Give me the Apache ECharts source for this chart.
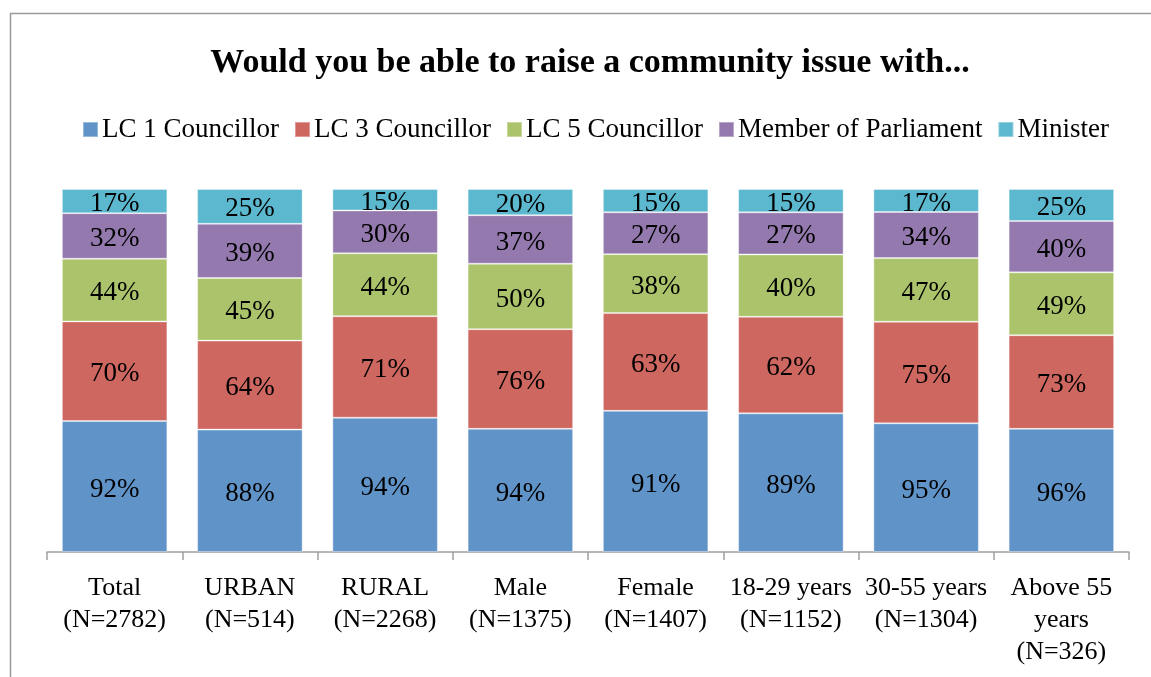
<!DOCTYPE html>
<html>
<head>
<meta charset="utf-8">
<title>Would you be able to raise a community issue with...</title>
<script src="https://cdn.jsdelivr.net/npm/echarts@6/dist/echarts.min.js"></script>
<style>
  html, body { margin: 0; padding: 0; background: #ffffff; }
  #chart { width: 1151px; height: 677px; }
</style>
</head>
<body>
<div id="chart"></div>
<script>
// Respondent groups shown along the bottom axis
const categories = [
  'Total\n(N=2782)',
  'URBAN\n(N=514)',
  'RURAL\n(N=2268)',
  'Male\n(N=1375)',
  'Female\n(N=1407)',
  '18-29 years\n(N=1152)',
  '30-55 years\n(N=1304)',
  'Above 55\nyears\n(N=326)'
];

// Share of respondents (%) who could raise an issue with each office
const seriesNames = ['LC 1 Councillor', 'LC 3 Councillor', 'LC 5 Councillor', 'Member of Parliament', 'Minister'];
const lc1Councillor = [92, 88, 94, 94, 91, 89, 95, 96];
const lc3Councillor = [70, 64, 71, 76, 63, 62, 75, 73];
const lc5Councillor = [44, 45, 44, 50, 38, 40, 47, 49];
const memberOfParliament = [32, 39, 30, 37, 27, 27, 34, 40];
const minister = [17, 25, 15, 20, 15, 15, 17, 25];

const seriesValues = [lc1Councillor, lc3Councillor, lc5Councillor, memberOfParliament, minister];
const palette = ['#6094c9', '#ce6760', '#abc46b', '#9379ad', '#5bb8cf'];

// Each column is stacked to 100%: a segment's height is its share of the column total
const columnTotals = categories.map((_, i) =>
  seriesValues.reduce((sum, arr) => sum + arr[i], 0));

const FONT = '"Liberation Serif", "DejaVu Serif", serif';

const chart = echarts.init(document.getElementById('chart'), null, { renderer: 'canvas' });

chart.setOption({
  animation: false,
  textStyle: { fontFamily: FONT },
  title: {
    text: 'Would you be able to raise a community issue with...',
    left: 590,
    textAlign: 'center',
    top: 46,
    padding: 0,
    textStyle: { fontFamily: FONT, fontSize: 34, fontWeight: 'bold', color: '#000000' }
  },
  legend: {
    data: seriesNames,
    left: 82,
    top: 116,
    padding: 0,
    itemWidth: 15,
    itemHeight: 15,
    itemGap: 15,
    icon: 'rect',
    textStyle: { fontFamily: FONT, fontSize: 27, color: '#000000', padding: [3, 0, 0, -1] }
  },
  grid: { left: 47, right: 22, top: 189, bottom: 125 },
  xAxis: {
    type: 'category',
    data: categories,
    axisLine: { lineStyle: { color: '#a0a0a0', width: 1.5 } },
    axisTick: { show: true, length: 8, lineStyle: { color: '#a0a0a0', width: 1.5 } },
    axisLabel: {
      interval: 0,
      margin: 20,
      fontFamily: FONT,
      fontSize: 26,
      lineHeight: 32,
      color: '#000000'
    }
  },
  yAxis: { type: 'value', min: 0, max: 100, show: false },
  graphic: [{
    type: 'rect',
    silent: true,
    shape: { x: 10.5, y: 13.5, width: 1170, height: 720 },
    style: { fill: 'none', stroke: '#9a9a9a', lineWidth: 1.5 }
  }],
  series: seriesValues.map((values, s) => ({
    name: seriesNames[s],
    type: 'bar',
    stack: 'share',
    barCategoryGap: '22%',
    itemStyle: { color: palette[s], borderColor: 'rgba(255,255,255,0.35)', borderWidth: 1 },
    label: {
      show: true,
      position: 'inside',
      offset: [0, 3],
      fontFamily: FONT,
      fontSize: 27,
      color: '#000000',
      formatter: p => values[p.dataIndex] + '%'
    },
    data: values.map((v, i) => v / columnTotals[i] * 100)
  }))
});
</script>
</body>
</html>
